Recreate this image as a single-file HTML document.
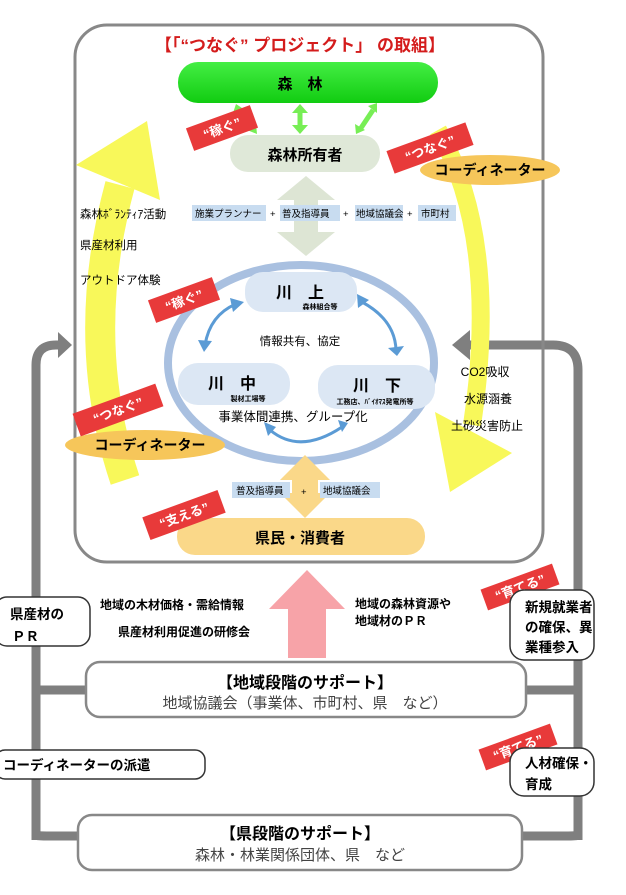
<!DOCTYPE html>
<html><head><meta charset="utf-8"><style>
html,body{margin:0;padding:0;background:#fff}
svg{display:block;font-family:"Liberation Sans","Noto Sans CJK JP",sans-serif}
</style></head><body>
<svg width="626" height="895" viewBox="0 0 626 895" xmlns="http://www.w3.org/2000/svg">
<defs>
<linearGradient id="gg" x1="0" y1="0" x2="0" y2="1"><stop offset="0" stop-color="#44ee44"/><stop offset="1" stop-color="#11cc11"/></linearGradient>
</defs>
<!-- gray connector lines -->
<g fill="none" stroke="#7f7f7f" stroke-width="9">
<path d="M36 840 V365 Q36 345 56 345 H60"/>
<path d="M578 840 V370 Q578 345 553 345 H468"/>
<path d="M36 835 Q36 836 50 836 H80"/>
<path d="M578 835 Q578 836 565 836 H520"/>
<path d="M36 690 H88"/><path d="M578 690 H522"/>
</g>
<polygon points="58,332 72,345 58,358" fill="#7f7f7f"/>
<polygon points="470,330 452,345 470,360" fill="#7f7f7f"/>
<!-- main box -->
<rect x="75" y="25" width="468" height="537" rx="32" fill="none" stroke="#888" stroke-width="3"/>
<!-- yellow arrows -->
<path d="M125 480 Q78 340 120 185" fill="none" stroke="#f8f85a" stroke-width="30"/>
<polygon points="76,165 147,121 160,200" fill="#f8f85a"/>
<path d="M438 130 Q500 240 472 425" fill="none" stroke="#f8f85a" stroke-width="18"/>
<polygon points="435,412 512,453 450,492" fill="#f8f85a"/>
<!-- title -->
<text x="300" y="51" text-anchor="middle" font-size="17" font-weight="bold" fill="#d41c1c">【「“つなぐ” プロジェクト」 の取組】</text>
<!-- forest -->
<rect x="178" y="62" width="260" height="41" rx="20" fill="url(#gg)"/>
<text x="300" y="89" text-anchor="middle" font-size="15" font-weight="bold">森　林</text>
<!-- green arrows -->
<g stroke="#77ee55" stroke-width="5" fill="#77ee55">
<line x1="300" y1="112" x2="300" y2="126"/>
<line x1="240" y1="112" x2="252" y2="128"/>
<line x1="373" y1="110" x2="361" y2="128"/>
</g>
<g fill="#77ee55">
<polygon points="292,113 300,104 308,113"/><polygon points="292,125 300,134 308,125"/>
<polygon points="233,113 236,104 245,110"/><polygon points="247,130 257,134 256,124"/>
<polygon points="368,106 377,103 377,113"/><polygon points="355,124 356,134 365,130"/>
</g>
<rect x="230" y="135" width="150" height="37" rx="18" fill="#dfe8d8"/>
<text x="305" y="160" text-anchor="middle" font-size="15" font-weight="bold">森林所有者</text>
<!-- gray-green double arrow -->
<polygon points="306,176 335,200 318,200 318,232 335,232 306,256 277,232 294,232 294,200 277,200" fill="#dde5d4"/>
<!-- chips -->
<g font-size="9.5">
<rect x="192" y="205" width="74" height="16" fill="#c8dcf0"/><text x="195" y="217">施業プランナー</text>
<text x="270" y="217">+</text>
<rect x="280" y="205" width="60" height="16" fill="#c8dcf0"/><text x="282" y="217">普及指導員</text>
<text x="343" y="217">+</text>
<rect x="355" y="205" width="48" height="16" fill="#c8dcf0"/><text x="356" y="217">地域協議会</text>
<text x="407" y="217">+</text>
<rect x="418" y="205" width="38" height="16" fill="#c8dcf0"/><text x="421" y="217">市町村</text>
</g>
<g font-size="11.5">
<text x="80" y="218">森林ﾎﾞﾗﾝﾃｨｱ活動</text>
<text x="80" y="249">県産材利用</text>
<text x="80" y="284">アウトドア体験</text>
</g>
<!-- ring -->
<ellipse cx="301" cy="363" rx="133" ry="98" fill="#fff" stroke="#a9c0e0" stroke-width="8"/>
<rect x="245" y="272" width="112" height="40" rx="18" fill="#dce7f4"/>
<text x="300" y="298" text-anchor="middle" font-size="16" font-weight="bold">川　上</text>
<text x="320" y="309" text-anchor="middle" font-size="7" font-weight="bold">森林組合等</text>
<rect x="178" y="363" width="112" height="42" rx="20" fill="#dce7f4"/>
<text x="232" y="389" text-anchor="middle" font-size="16" font-weight="bold">川　中</text>
<text x="248" y="401" text-anchor="middle" font-size="7" font-weight="bold">製材工場等</text>
<rect x="318" y="365" width="117" height="44" rx="20" fill="#dce7f4"/>
<text x="377" y="391" text-anchor="middle" font-size="16" font-weight="bold">川　下</text>
<text x="375" y="404" text-anchor="middle" font-size="7" font-weight="bold">工務店、ﾊﾞｲｵﾏｽ発電所等</text>
<text x="300" y="345" text-anchor="middle" font-size="11.5">情報共有、協定</text>
<text x="293" y="421" text-anchor="middle" font-size="12.5">事業体間連携、グループ化</text>
<g fill="none" stroke="#5b9bd5" stroke-width="3">
<path d="M236 304 Q210 315 205 345"/>
<path d="M362 302 Q395 320 396 350"/>
<path d="M270 430 Q300 455 342 427"/>
</g>
<g fill="#5b9bd5">
<polygon points="230,298 244,302 233,312"/><polygon points="198,340 204,352 212,341"/>
<polygon points="357,294 369,300 358,308"/><polygon points="388,348 397,356 404,346"/>
<polygon points="264,422 268,436 276,427"/><polygon points="338,420 348,423 342,432"/>
</g>
<!-- coordinator ovals -->
<ellipse cx="490" cy="170" rx="70" ry="15" fill="#f6c65a"/>
<text x="490" y="175" text-anchor="middle" font-size="14" font-weight="bold">コーディネーター</text>
<ellipse cx="145" cy="445" rx="80" ry="15" fill="#f6c65a"/>
<text x="150" y="450" text-anchor="middle" font-size="14" font-weight="bold">コーディネーター</text>
<g font-size="12">
<text x="485" y="376" text-anchor="middle">CO2吸収</text>
<text x="488" y="403" text-anchor="middle">水源涵養</text>
<text x="487" y="430" text-anchor="middle">土砂災害防止</text>
</g>
<!-- yellow double arrow -->
<polygon points="305,455 330,480 318,480 318,493 330,493 305,518 280,493 292,493 292,480 280,480" fill="#fad889"/>
<g font-size="9.5">
<rect x="232" y="482" width="58" height="16" fill="#c8dcf0"/><text x="236" y="494">普及指導員</text>
<text x="301" y="495">+</text>
<rect x="320" y="482" width="60" height="16" fill="#c8dcf0"/><text x="323" y="494">地域協議会</text>
</g>
<rect x="177" y="518" width="248" height="37" rx="18" fill="#fad889"/>
<text x="300" y="543" text-anchor="middle" font-size="15" font-weight="bold">県民・消費者</text>
<!-- red tags -->
<g font-size="13" font-weight="bold" fill="#fff">
<g transform="translate(222,128) rotate(-20)"><rect x="-34" y="-12" width="68" height="24" fill="#e83a3a"/><text y="5" text-anchor="middle">“稼ぐ”</text></g>
<g transform="translate(430,148) rotate(-20)"><rect x="-42" y="-12" width="84" height="24" fill="#e83a3a"/><text y="5" text-anchor="middle">“つなぐ”</text></g>
<g transform="translate(184,300) rotate(-20)"><rect x="-34" y="-12" width="68" height="24" fill="#e83a3a"/><text y="5" text-anchor="middle">“稼ぐ”</text></g>
<g transform="translate(118,410) rotate(-20)"><rect x="-44" y="-12" width="88" height="24" fill="#e83a3a"/><text y="5" text-anchor="middle">“つなぐ”</text></g>
<g transform="translate(184,515) rotate(-20)"><rect x="-40" y="-12" width="80" height="24" fill="#e83a3a"/><text y="5" text-anchor="middle">“支える”</text></g>
<g transform="translate(520,587) rotate(-20)"><rect x="-38" y="-11" width="76" height="22" fill="#e83a3a"/><text y="5" text-anchor="middle">“育てる”</text></g>
<g transform="translate(518,747) rotate(-20)"><rect x="-38" y="-11" width="76" height="22" fill="#e83a3a"/><text y="5" text-anchor="middle">“育てる”</text></g>
</g>
<!-- pink arrow -->
<polygon points="307,570 345,609 326,609 326,658 288,658 288,609 269,609" fill="#f7a3a8"/>
<g font-size="12" font-weight="bold">
<text x="100" y="609">地域の木材価格・需給情報</text>
<text x="118" y="636">県産材利用促進の研修会</text>
<text x="355" y="608">地域の森林資源や</text>
<text x="355" y="625">地域材のＰＲ</text>
</g>
<!-- boxes -->
<g fill="#fff" stroke="#333" stroke-width="1.5">
<rect x="-5" y="597" width="95" height="49" rx="12"/>
<rect x="510" y="590" width="84" height="70" rx="14"/>
<rect x="-5" y="750" width="210" height="29" rx="10"/>
<rect x="510" y="748" width="84" height="48" rx="14"/>
</g>
<g fill="#fff" stroke="#888" stroke-width="2.5">
<rect x="86" y="662" width="440" height="55" rx="14"/>
<rect x="78" y="815" width="444" height="55" rx="14"/>
</g>
<g font-size="13.5" font-weight="bold">
<text x="10" y="619">県産材の</text><text x="12" y="641">ＰＲ</text>
<text x="525" y="612">新規就業者</text><text x="525" y="632">の確保、異</text><text x="525" y="652">業種参入</text>
<text x="3" y="770">コーディネーターの派遣</text>
<text x="525" y="768">人材確保・</text><text x="525" y="789">育成</text>
</g>
<text x="305" y="688" text-anchor="middle" font-size="16" font-weight="bold">【地域段階のサポート】</text>
<text x="305" y="708" text-anchor="middle" font-size="15" fill="#444">地域協議会（事業体、市町村、県　など）</text>
<text x="300" y="839" text-anchor="middle" font-size="16" font-weight="bold">【県段階のサポート】</text>
<text x="300" y="860" text-anchor="middle" font-size="15" fill="#444">森林・林業関係団体、県　など</text>
</svg>
</body></html>
